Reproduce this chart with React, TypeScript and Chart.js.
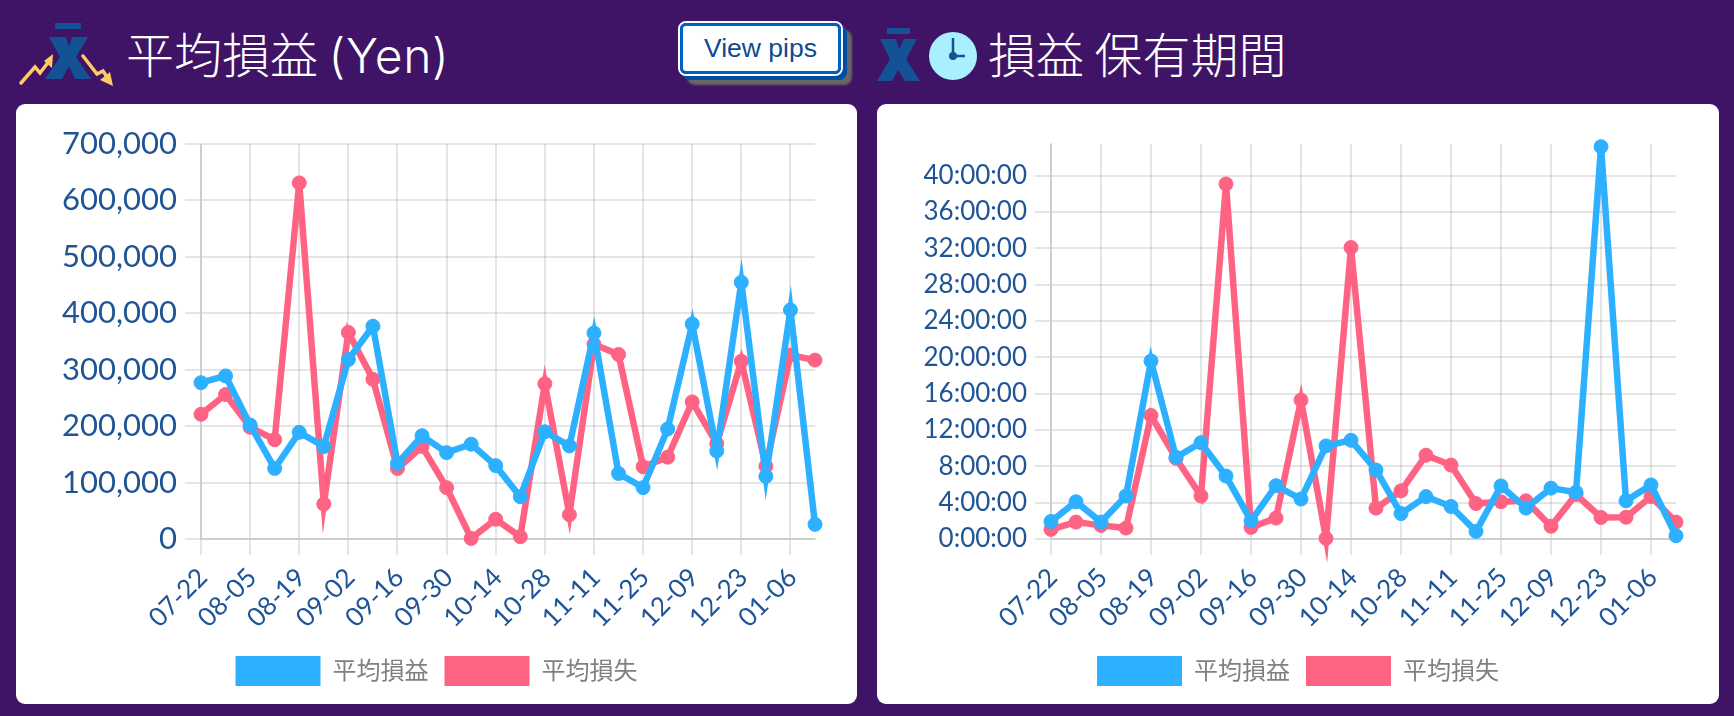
import React, { useEffect, useRef } from "react";
import { Chart, registerables } from "chart.js";

Chart.register(...registerables);

const categories = ["07-22","07-29","08-05","08-12","08-19","08-26","09-02","09-09","09-16","09-23","09-30","10-07","10-14","10-21","10-28","11-04","11-11","11-18","11-25","12-02","12-09","12-16","12-23","12-30","01-06","01-13"];
const profitYen = [277000,289000,202000,125000,189000,164000,318000,377000,134000,183000,153000,168000,130000,75000,190000,165000,365000,116000,91000,195000,381000,156000,455000,111000,406000,26000];
const lossYen = [221000,256000,198000,176000,631000,62000,366000,283000,125000,164000,91000,1000,35000,4000,275000,43000,345000,327000,128000,145000,243000,169000,315000,129000,326000,317000];
const profitHours = [1.93,4.1,1.86,4.74,19.6,9.0,10.6,6.93,2.0,5.87,4.4,10.25,10.87,7.6,2.8,4.67,3.58,0.84,5.84,3.4,5.6,5.15,43.2,4.2,5.95,0.36];
const lossHours = [1.06,1.86,1.5,1.2,13.6,8.9,4.74,39.1,1.28,2.3,15.3,0.07,32.1,3.4,5.3,9.23,8.14,3.9,4.1,4.2,1.4,4.9,2.37,2.4,4.67,1.86];
const profitLabel = "平均損益";
const lossLabel = "平均損失";
const BLUE = "#2cb0ff";
const RED = "#ff6384";
const TICK = "#1f5596";
const LATIN = "Lato, 'Noto Sans CJK JP', sans-serif";

function makeConfig(a: number[], b: number[], yAxis: any, yWidth: number, rightMargin: number): any {
  const ds = (label: string, data: number[], color: string) => ({
    label, data, yAxisID: "y", borderColor: color, backgroundColor: color, pointBackgroundColor: color, pointBorderColor: color,
    borderWidth: 6.5, pointRadius: 7, pointBorderWidth: 1, tension: 0, fill: false, borderJoinStyle: "miter", clip: false,
  });
  return {
    type: "line",
    data: { labels: categories, datasets: [ds(profitLabel, a, BLUE), ds(lossLabel, b, RED)] },
    options: {
      animation: false, responsive: false, maintainAspectRatio: false,
      layout: { padding: { top: 40, right: 0, left: 0, bottom: 8 } },
      plugins: {
        tooltip: { enabled: false },
        legend: {
          position: "bottom",
          labels: {
            boxWidth: 85, boxHeight: 30, padding: 16, color: "#808080",
            font: { size: 24, family: LATIN, weight: 400 },
            generateLabels: (chart: any) =>
              (Chart.defaults as any).plugins.legend.labels.generateLabels(chart).map((l: any) => ({ ...l, lineWidth: 0 })),
          },
        },
      },
      scales: {
        x: {
          grid: { color: "rgba(0,0,0,0.1)", lineWidth: 2, tickLength: 16, drawTicks: true },
          border: { color: "rgba(0,0,0,0.1)", width: 2 },
          ticks: { color: TICK, font: { size: 26, family: LATIN, weight: 400 }, minRotation: 45, maxRotation: 45, autoSkip: true, maxTicksLimit: 13, padding: 7, labelOffset: 2 },
          afterFit: (s: any) => { s.height = 101; },
        },
        y: {
          ...yAxis,
          grid: { color: "rgba(0,0,0,0.1)", lineWidth: 2, tickLength: 16 },
          border: { color: "rgba(0,0,0,0.1)", width: 2 },
          afterFit: (s: any) => { s.width = yWidth; },
        },
        spacer: {
          position: "right", min: 0, max: 1,
          grid: { display: false }, border: { display: false }, ticks: { display: false },
          afterFit: (s: any) => { s.width = rightMargin; },
        },
      },
    },
  };
}

function LineCard({ left, width, config }: { left: number; width: number; config: any }) {
  const ref = useRef<HTMLCanvasElement>(null);
  useEffect(() => {
    const chart = new Chart(ref.current as HTMLCanvasElement, config);
    return () => chart.destroy();
  }, []);
  return (
    <div style={{ position: "absolute", left, top: 104, width, height: 599.5, background: "#fff", borderRadius: 9, overflow: "hidden" }}>
      <canvas ref={ref} width={width} height={600} style={{ display: "block", width, height: 600 }} />
    </div>
  );
}

const fmtHours = (v: any) => `${v}:00:00`;

export default function App() {
  const left = makeConfig(profitYen, lossYen, {
    min: 0, max: 700000,
    ticks: { stepSize: 100000, color: TICK, padding: 8, font: { size: 31, family: LATIN, weight: 400 }, callback: (v: any) => Number(v).toLocaleString("en-US") },
  }, 185, 42);
  const right = makeConfig(profitHours, lossHours, {
    min: 0, max: 43.5,
    ticks: { stepSize: 4, includeBounds: false, color: TICK, padding: 8, font: { size: 26, family: LATIN, weight: 400 }, callback: fmtHours },
  }, 174, 43);
  const title: React.CSSProperties = { position: "absolute", top: 20, color: "#fff", fontSize: 48, lineHeight: "64px", fontFamily: "'Noto Sans CJK JP', sans-serif", fontWeight: 300, whiteSpace: "nowrap" };
  return (
    <div style={{ position: "fixed", left: 0, top: 0, width: 1734, height: 716, background: "#3f1466", overflow: "hidden" }}>
      <svg width={1734} height={100} style={{ position: "absolute", left: 0, top: 0 }}>
        <g fill="#135295">
          <rect x={55} y={23} width={26} height={6} />
          <polygon points="49,37 66,37 69,47 72,37 88,37 76,57 91,79 75,79 69,66 62,79 45,79 60,57" />
          <rect x={887} y={28} width={23} height={6} />
          <polygon points="880,39 896,39 899,49 904,39 917,39 906,59 920,81 905,81 898,70 892,81 877,81 890,59" />
        </g>
        <g fill="none" stroke="#ffcb66" strokeWidth={3.5} strokeLinecap="round">
          <polyline points="21,83 35,67 40,73 50,60" />
          <polyline points="83,56 97,74 103,71 109,80" />
        </g>
        <g fill="#ffcb66">
          <polygon points="53,54 52,68 44,61" />
          <polygon points="113,86 100,80 110,72" />
        </g>
        <circle cx={953} cy={56} r={24} fill="#a8f0ff" />
        <g stroke="#135295" strokeWidth={2.5}>
          <line x1={953} y1={38} x2={953} y2={56} />
          <line x1={953} y1={56} x2={965} y2={56} />
        </g>
        <circle cx={953} cy={56} r={4} fill="#135295" />
      </svg>
      <div style={{ ...title, left: 126 }}>平均損益 <span style={{ fontFamily: "Inter, sans-serif", fontWeight: 300, letterSpacing: 0.6 }}>(Yen)</span></div>
      <div style={{ ...title, left: 988 }}>損益 保有期間</div>
      <div style={{ position: "absolute", left: 678, top: 21, width: 165, height: 55, boxSizing: "border-box", border: "2px solid #fff", borderRadius: 8, boxShadow: "4px 4px 0 #004f9f, 9px 9px 2px #666" }}>
        <div style={{ boxSizing: "border-box", width: "100%", height: "100%", border: "3px solid #0060c8", borderRadius: 6, background: "#fff", color: "#0d4b8f", fontFamily: "'Liberation Sans', sans-serif", fontSize: 26.5, display: "flex", alignItems: "center", justifyContent: "center" }}>View pips</div>
      </div>
      <LineCard left={16} width={841} config={left} />
      <LineCard left={877} width={842} config={right} />
    </div>
  );
}
